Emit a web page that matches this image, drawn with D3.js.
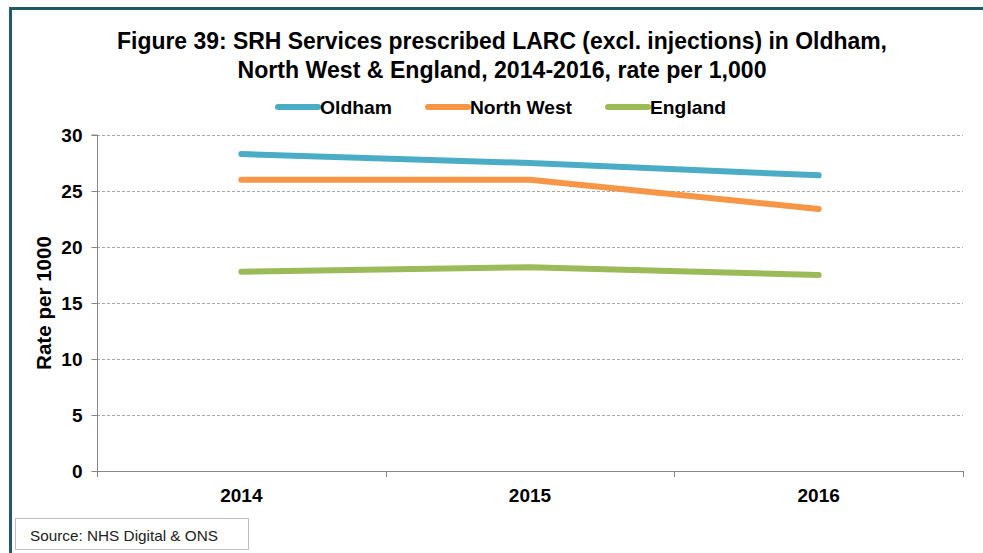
<!DOCTYPE html>
<html><head><meta charset="utf-8">
<script src="https://cdn.jsdelivr.net/npm/d3@7"></script>
<style>body{margin:0;background:#fff}svg{display:block;font-family:"Liberation Sans",Arial,sans-serif}</style>
</head><body><svg id="c" width="983" height="553"></svg>
<script>
const years = ["2014","2015","2016"];
const oldham = [28.3, 27.5, 26.4];
const northWest = [26.0, 26.0, 23.4];
const england = [17.8, 18.2, 17.5];
const seriesNames = ["Oldham","North West","England"];
const seriesColors = ["#4BACC6","#F79646","#9BBB59"];
const yTicks = [0,5,10,15,20,25,30];
const titleLines = ["Figure 39: SRH Services prescribed LARC (excl. injections) in Oldham,","North West & England, 2014-2016, rate per 1,000"];
const yLabel = "Rate per 1000";
const sourceText = "Source: NHS Digital & ONS";

const series = [oldham, northWest, england].map((v,i)=>({name:seriesNames[i], color:seriesColors[i], values:v}));
const svg = d3.select("#c");
const FF = "Liberation Sans, Arial, sans-serif";

// frame
svg.append("line").attr("x1",9).attr("x2",983).attr("y1",8.5).attr("y2",8.5).attr("stroke","#215967").attr("stroke-width",3);
svg.append("line").attr("x1",10.5).attr("x2",10.5).attr("y1",7).attr("y2",553).attr("stroke","#215967").attr("stroke-width",3);

// title
const tw = [770, 529];
titleLines.forEach((t,i)=>{
  svg.append("text").attr("x",502).attr("y",49+i*29).attr("text-anchor","middle")
    .attr("font-size",23).attr("font-weight","bold").attr("fill","#000")
    .attr("textLength",tw[i]).attr("lengthAdjust","spacingAndGlyphs").text(t);
});

const x0 = 97, x1 = 963, yTop = 135, yBot = 471;
const x = d3.scaleBand().domain(years).range([x0,x1]);
const y = d3.scaleLinear().domain([0,30]).range([yBot,yTop]);

// gridlines
svg.append("g").selectAll("line").data(yTicks.filter(d=>d>0)).join("line")
  .attr("x1",x0).attr("x2",x1).attr("y1",d=>Math.round(y(d))+0.5).attr("y2",d=>Math.round(y(d))+0.5)
  .attr("stroke","#A6A6A6").attr("stroke-dasharray","3,2").attr("stroke-width",1);

// y axis
const ya = svg.append("g").attr("transform",`translate(${x0+0.5},0)`)
  .call(d3.axisLeft(y).tickValues(yTicks).tickSize(6).tickPadding(9).tickFormat(d3.format("d")));
ya.select(".domain").attr("stroke","#868686").attr("d",`M-6,${yTop}H0V${yBot}`);
ya.selectAll(".tick line").attr("stroke","#868686");
ya.selectAll(".tick text").attr("font-size",19).attr("font-weight","bold").attr("fill","#000").attr("font-family",FF);

// x axis
const xa = svg.append("g").attr("transform",`translate(0,${yBot+0.5})`)
  .call(d3.axisBottom(x).tickSize(0).tickPadding(17));
xa.select(".domain").attr("stroke","#868686").attr("d",`M${x0},0H${x1}`);
xa.selectAll(".tick text").attr("font-size",19).attr("font-weight","bold").attr("fill","#000").attr("font-family",FF);
const bounds = years.map(d=>x(d)).concat([x1]);
svg.append("g").selectAll("line").data(bounds).join("line")
  .attr("x1",d=>Math.round(d)+0.5).attr("x2",d=>Math.round(d)+0.5).attr("y1",yBot).attr("y2",yBot+6)
  .attr("stroke","#868686");

// y label
svg.append("text").attr("transform","translate(51,303) rotate(-90)").attr("text-anchor","middle")
  .attr("font-size",20).attr("font-weight","bold").attr("textLength",134).attr("lengthAdjust","spacingAndGlyphs").text(yLabel);

// lines
const line = d3.line().x((d,i)=>x(years[i])+x.bandwidth()/2).y(d=>y(d));
svg.append("g").selectAll("path").data(series).join("path")
  .attr("d",d=>line(d.values)).attr("fill","none").attr("stroke",d=>d.color)
  .attr("stroke-width",6).attr("stroke-linecap","round").attr("stroke-linejoin","round");

// legend
const lx = [278, 428, 608];
const tl = [72, 102, 76];
const lg = svg.append("g").selectAll("g").data(series).join("g").attr("transform",(d,i)=>`translate(${lx[i]},107)`);
lg.append("line").attr("x1",0).attr("x2",40).attr("y1",0).attr("y2",0).attr("stroke",d=>d.color).attr("stroke-width",6).attr("stroke-linecap","round");
lg.append("text").attr("x",42).attr("y",7).attr("font-size",19).attr("font-weight","bold")
  .attr("textLength",(d,i)=>tl[i]).attr("lengthAdjust","spacingAndGlyphs").text(d=>d.name);

// source box
svg.append("rect").attr("x",15.5).attr("y",518.5).attr("width",233).attr("height",31).attr("fill","#fff").attr("stroke","#BFBFBF");
svg.append("text").attr("x",30).attr("y",541).attr("font-size",15).attr("fill","#222").attr("textLength",188).attr("lengthAdjust","spacingAndGlyphs").text(sourceText);
</script></body></html>
